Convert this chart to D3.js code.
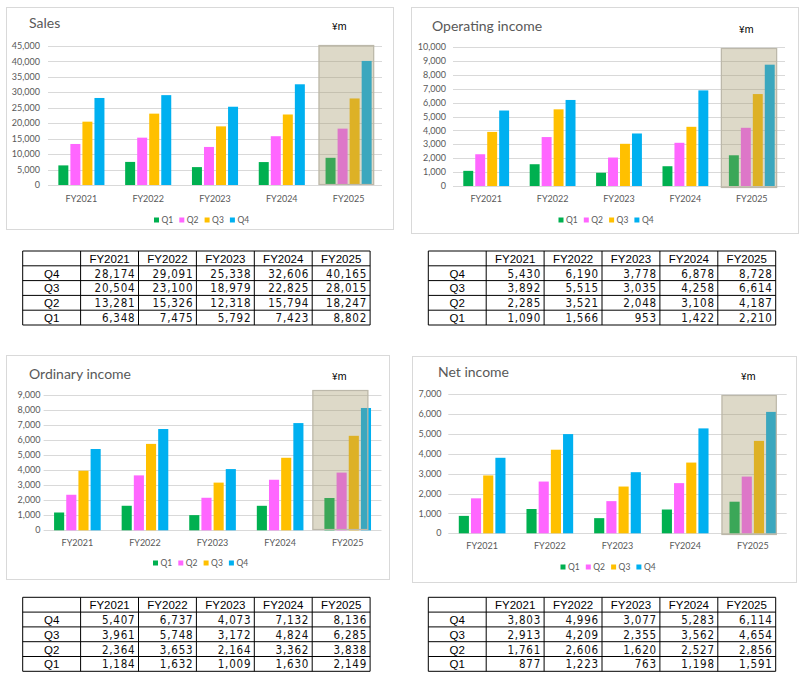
<!DOCTYPE html>
<html><head><meta charset="utf-8">
<script src="https://cdn.jsdelivr.net/npm/d3@7"></script>
<style>body{margin:0;background:#fff} svg{display:block}</style>
</head><body>
<svg id="c" width="802" height="683"></svg>
<script>
// ---------- data ----------
const years = ["FY2021","FY2022","FY2023","FY2024","FY2025"];
const quarters = ["Q1","Q2","Q3","Q4"];
const quarterColors = ["#00B050","#FF66FF","#FFC000","#00B0F0"];
// rows: Q1, Q2, Q3, Q4 ; columns: FY2021..FY2025
const sales = [[6348,7475,5792,7423,8802],[13281,15326,12318,15794,18247],[20504,23100,18979,22825,28015],[28174,29091,25338,32606,40165]];
const operatingIncome = [[1090,1566,953,1422,2210],[2285,3521,2048,3108,4187],[3892,5515,3035,4258,6614],[5430,6190,3778,6878,8728]];
const ordinaryIncome = [[1184,1632,1009,1630,2149],[2364,3653,2164,3362,3838],[3961,5748,3172,4824,6285],[5407,6737,4073,7132,8136]];
const netIncome = [[877,1223,763,1198,1591],[1761,2606,1620,2527,2856],[2913,4209,2355,3562,4654],[3803,4996,3077,5283,6114]];
const titles = ["Sales","Operating income","Ordinary income","Net income"];
const yMax = [45000,10000,9000,7000];
const yStep = [5000,1000,1000,1000];
const unitLabel = "¥m";
const highlightYear = "FY2025";

// ---------- layout ----------
const panels = [
  {data:sales, frame:[6,7,393,229], px:[48,382], py:[46,185], title:[29,28], unit:[332,30], labelX:40, catY:202, legY:220, legC:201, box:[45,185,-7,2.5]},
  {data:operatingIncome, frame:[411,7,798,233], px:[453,785], py:[47,186], title:[432,31], unit:[739,33], labelX:446, catY:202, legY:220, legC:605.5, box:[48,188,-8,2.4]},
  {data:ordinaryIncome, frame:[6,355,389,579], px:[43.6,381.5], py:[395,530.3], title:[29,379], unit:[332,380], labelX:40.5, catY:546, legY:563, legC:200, box:[390,530,-12,-2.7]},
  {data:netIncome, frame:[412,356,796,582], px:[448.3,786.7], py:[394.3,533.3], title:[438,377], unit:[741,380], labelX:441.5, catY:549, legY:567, legC:607.5, box:[395,535,-8,0.6]}
];
const tables = [[22.7,251],[428.3,251],[22.7,597.3],[428.3,597.3]];

const svg = d3.select("#c");
const fmt = d3.format(",");
const chartFont = "Lato, 'Open Sans', sans-serif";
const grey = "#595959";

panels.forEach((p, pi) => {
  const g = svg.append("g");
  const [fx0, fy0, fx1, fy1] = p.frame;
  g.append("rect").attr("x", fx0 + 0.5).attr("y", fy0 + 0.5)
    .attr("width", fx1 - fx0).attr("height", fy1 - fy0)
    .attr("fill", "#fff").attr("stroke", "#d9d9d9");

  const x = d3.scaleBand().domain(years).range(p.px).paddingInner(0.31).paddingOuter(0.155);
  const xq = d3.scaleBand().domain(quarters).range([0, x.bandwidth()]).paddingInner(0.17).paddingOuter(0);
  const y = d3.scaleLinear().domain([0, yMax[pi]]).range([p.py[1], p.py[0]]);
  const ticks = d3.range(0, yMax[pi] + 1, yStep[pi]);

  // gridlines
  g.append("g").selectAll("line").data(ticks).join("line")
    .attr("x1", p.px[0]).attr("x2", p.px[1])
    .attr("y1", d => Math.round(y(d)) + 0.5).attr("y2", d => Math.round(y(d)) + 0.5)
    .attr("stroke", "#d9d9d9").attr("stroke-width", 1);

  // y labels
  g.append("g").selectAll("text").data(ticks).join("text")
    .attr("x", p.labelX).attr("y", d => y(d)).attr("dy", "0.35em")
    .attr("text-anchor", "end").attr("font-family", chartFont).attr("font-size", 9)
    .attr("fill", grey).text(d => fmt(d));

  // bars
  quarters.forEach((q, qi) => {
    g.append("g").selectAll("rect").data(p.data[qi]).join("rect")
      .attr("x", (d, i) => x(years[i]) + xq(q))
      .attr("width", xq.bandwidth())
      .attr("y", d => y(d))
      .attr("height", d => y(0) - y(d))
      .attr("fill", quarterColors[qi]);
  });

  // category labels
  g.append("g").selectAll("text").data(years).join("text")
    .attr("x", d => x(d) + x.bandwidth() / 2).attr("y", p.catY)
    .attr("text-anchor", "middle").attr("font-family", chartFont).attr("font-size", 9)
    .attr("fill", grey).text(d => d);

  // highlight box over FY2025
  const bx0 = x(highlightYear) + p.box[2];
  const bx1 = x(highlightYear) + x.bandwidth() + p.box[3];
  g.append("rect").attr("x", bx0).attr("y", p.box[0])
    .attr("width", bx1 - bx0).attr("height", p.box[1] - p.box[0])
    .attr("fill", "rgb(162,151,104)").attr("fill-opacity", 0.365);
  g.append("rect").attr("x", bx0 + 0.5).attr("y", p.box[0] + 0.5)
    .attr("width", bx1 - bx0 - 1).attr("height", p.box[1] - p.box[0] - 1)
    .attr("fill", "none").attr("stroke", "#bcb8aa").attr("stroke-width", 1.2);

  // title
  g.append("text").attr("x", p.title[0]).attr("y", p.title[1])
    .attr("font-family", chartFont).attr("font-size", 14).attr("fill", grey).text(titles[pi]);
  // unit
  g.append("text").attr("x", p.unit[0]).attr("y", p.unit[1])
    .attr("font-family", "'Noto Sans CJK JP', 'Noto Sans', sans-serif").attr("font-size", 10)
    .attr("fill", "#000").text(unitLabel);

  // legend
  const pitch = 25.3;
  const legStart = p.legC - 47;
  const leg = g.append("g").selectAll("g").data(quarters).join("g")
    .attr("transform", (d, i) => `translate(${legStart + i * pitch},${p.legY})`);
  leg.append("rect").attr("x", 0).attr("y", -2.5).attr("width", 5).attr("height", 5)
    .attr("fill", (d, i) => quarterColors[i]);
  leg.append("text").attr("x", 7.5).attr("y", 0).attr("dy", "0.35em")
    .attr("font-family", chartFont).attr("font-size", 8.5).attr("fill", grey).text(d => d);
});

// ---------- tables ----------
const colW = 57.9, rowH = 14.8;
const rowOrder = [3, 2, 1, 0];
panels.forEach((p, pi) => {
  const [tx, ty] = tables[pi];
  const g = svg.append("g");
  const nCols = years.length + 1, nRows = quarters.length + 1;
  for (let r = 0; r <= nRows; r++) {
    g.append("line").attr("x1", tx).attr("x2", tx + nCols * colW)
      .attr("y1", ty + r * rowH).attr("y2", ty + r * rowH).attr("stroke", "#000").attr("stroke-width", 1);
  }
  for (let c = 0; c <= nCols; c++) {
    g.append("line").attr("x1", tx + c * colW).attr("x2", tx + c * colW)
      .attr("y1", ty).attr("y2", ty + nRows * rowH).attr("stroke", "#000").attr("stroke-width", 1);
  }
  g.append("g").selectAll("text").data(years).join("text")
    .attr("x", (d, i) => tx + (i + 1.5) * colW).attr("y", ty + rowH - 3)
    .attr("text-anchor", "middle").attr("font-family", "'Liberation Sans', Arial, sans-serif")
    .attr("font-size", 11.5).attr("fill", "#000").text(d => d);
  rowOrder.forEach((qi, r) => {
    const yy = ty + (r + 2) * rowH - 3;
    g.append("text").attr("x", tx + colW / 2).attr("y", yy).attr("text-anchor", "middle")
      .attr("font-family", "'Liberation Sans', Arial, sans-serif").attr("font-size", 11.5)
      .attr("fill", "#000").text(quarters[qi]);
    g.append("g").selectAll("text").data(p.data[qi]).join("text")
      .attr("x", (d, i) => tx + (i + 2) * colW - 3).attr("y", yy)
      .attr("text-anchor", "end")
      .attr("font-family", "'Liberation Sans Narrow', 'DejaVu Sans Condensed', sans-serif")
      .attr("font-stretch", "condensed")
      .attr("font-size", 11.5).attr("letter-spacing", 0.8).attr("fill", "#111")
      .text(d => fmt(d));
  });
});
</script>
</body></html>
